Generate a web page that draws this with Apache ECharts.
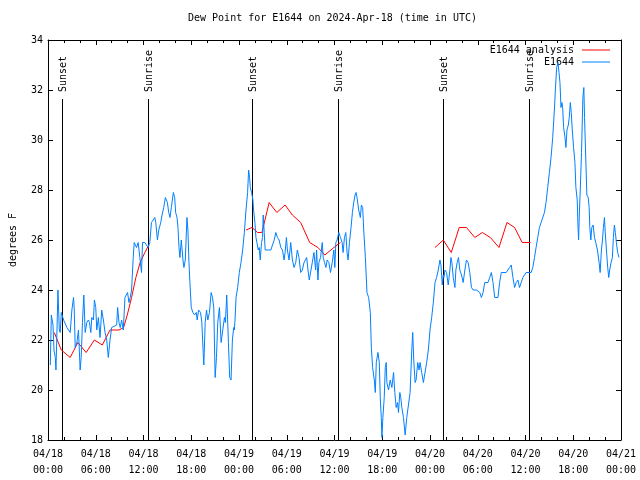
<!DOCTYPE html>
<html><head><meta charset="utf-8">
<script src="https://cdn.jsdelivr.net/npm/echarts@6/dist/echarts.min.js"></script>
<style>html,body{margin:0;padding:0;background:#fff}#c{width:640px;height:480px}</style>
</head><body><div id="c"></div>
<script>
// hours since 2024-04-18 00:00 UTC
const obsHours = [
0.29,0.42,0.63,0.75,0.92,1.0,1.13,1.25,1.42,1.54,1.67,1.83,1.96,2.38,2.79,3.0,3.21,3.29,3.42,3.63,
3.83,4.04,4.17,4.33,4.5,4.67,4.88,5.08,5.21,5.38,5.5,5.71,5.83,6.0,6.13,6.33,6.54,6.75,6.96,7.17,
7.38,7.58,7.79,8.0,8.21,8.63,8.75,8.92,9.08,9.25,9.46,9.67,10.0,10.17,10.33,10.5,10.71,10.83,11.13,11.33,
11.54,11.75,11.88,12.17,12.38,12.58,12.79,13.0,13.21,13.42,13.54,13.75,13.92,14.17,14.33,14.54,14.75,15.0,15.17,15.33,
15.5,15.75,15.92,16.04,16.21,16.33,16.46,16.58,16.75,16.96,17.08,17.25,17.46,17.58,17.71,17.83,18.0,18.21,18.42,18.63,
18.75,18.92,19.17,19.33,19.5,19.58,19.75,19.92,20.08,20.29,20.5,20.67,20.83,21.0,21.17,21.33,21.54,21.75,21.96,22.17,
22.29,22.46,22.67,22.83,23.0,23.17,23.33,23.42,23.5,23.63,23.83,24.04,24.25,24.46,24.67,24.88,25.08,25.21,25.33,25.42,
25.58,25.75,25.83,26.0,26.13,26.25,26.42,26.54,26.67,26.83,26.96,27.04,27.17,27.29,27.5,28.0,28.42,28.63,28.83,29.04,
29.25,29.46,29.67,29.79,29.96,30.08,30.29,30.5,30.71,30.92,31.13,31.33,31.54,31.75,31.96,32.17,32.38,32.5,32.67,32.83,
33.0,33.21,33.42,33.63,33.75,33.92,34.04,34.25,34.46,34.58,34.75,34.92,35.08,35.29,35.5,35.71,35.92,36.04,36.17,36.33,
36.54,36.75,36.96,37.08,37.25,37.42,37.58,37.71,37.88,38.08,38.25,38.42,38.58,38.71,38.83,39.04,39.25,39.38,39.54,39.67,
39.88,40.08,40.29,40.5,40.63,40.79,41.0,41.13,41.25,41.46,41.63,41.75,41.88,41.96,42.08,42.25,42.38,42.5,42.58,42.79,
43.0,43.21,43.42,43.58,43.75,43.92,44.04,44.21,44.33,44.46,44.67,44.88,45.08,45.29,45.5,45.71,45.83,45.96,46.13,46.25,
46.46,46.63,46.75,46.96,47.17,47.38,47.58,47.79,48.0,48.21,48.42,48.63,48.83,49.04,49.25,49.38,49.54,49.67,49.75,49.88,
50.08,50.29,50.5,50.63,50.75,50.92,51.13,51.25,51.42,51.58,51.75,51.96,52.17,52.38,52.58,52.79,53.0,53.21,53.42,53.83,
54.25,54.46,54.67,54.88,55.29,55.5,55.71,55.92,56.13,56.54,56.75,56.96,57.58,57.79,58.0,58.21,58.42,58.63,58.83,59.04,
59.25,59.46,59.67,59.88,60.08,60.71,60.92,61.13,61.33,61.54,61.75,61.96,62.17,62.38,62.58,62.79,63.0,63.21,63.42,63.63,
63.75,63.92,64.08,64.21,64.33,64.46,64.58,64.67,64.79,64.96,65.08,65.21,65.38,65.5,65.63,65.75,65.88,66.04,66.21,66.33,
66.5,66.58,66.67,66.75,66.88,67.04,67.21,67.33,67.42,67.58,67.71,67.88,68.0,68.08,68.21,68.33,68.5,68.67,68.83,69.04,
69.25,69.38,69.54,69.67,69.79,69.92,70.0,70.17,70.33,70.46,70.58,70.75,70.92,71.04,71.17,71.29,71.42,71.58,71.75
];
const obsValues = [
21.0,23.0,22.6,21.6,21.3,20.8,22.4,24.0,22.4,22.3,23.1,23.1,22.8,22.5,22.3,23.2,23.7,23.3,21.7,21.9,
22.4,20.8,21.3,22.7,23.8,22.3,22.7,22.8,22.7,22.3,22.9,22.8,23.6,23.3,22.4,22.9,22.1,23.2,22.8,22.3,
22.0,21.3,22.0,22.5,22.5,22.6,23.3,22.7,22.5,22.8,22.4,23.7,23.9,23.5,23.7,24.0,25.3,25.9,25.7,25.9,
25.3,24.7,25.9,25.9,25.9,25.7,25.9,26.7,26.8,26.9,26.7,26.0,26.4,26.7,27.0,27.3,27.7,27.5,27.1,26.9,
27.3,27.9,27.7,27.1,26.9,26.5,25.7,25.3,26.0,25.2,24.9,25.2,26.9,26.4,25.1,24.3,23.3,23.1,23.0,23.1,
22.8,23.2,23.1,22.7,21.5,21.0,22.7,23.2,22.8,23.1,23.9,23.7,23.3,20.5,21.3,22.7,23.3,21.9,22.4,22.9,
22.7,23.8,21.9,20.5,20.4,22.0,22.5,22.4,22.8,23.7,24.1,24.7,25.1,25.6,26.3,27.2,27.9,28.8,28.5,28.1,
27.9,27.6,27.2,26.7,26.1,25.9,25.6,25.7,25.2,25.9,26.1,27.0,26.3,25.6,25.6,25.6,26.0,26.3,26.1,26.0,
25.7,25.6,25.2,25.5,26.1,25.6,25.2,25.9,25.2,24.9,25.1,25.6,25.3,24.7,24.8,25.1,25.1,25.3,24.8,24.4,
24.4,25.1,25.5,24.8,25.6,24.4,25.1,25.3,25.9,25.3,25.1,24.9,25.2,25.1,24.7,25.1,25.6,24.9,25.9,26.0,
26.3,26.1,25.9,25.5,26.1,26.3,25.5,25.2,25.9,26.5,27.1,27.5,27.8,27.9,27.7,27.2,26.9,27.4,27.3,26.4,
25.3,23.9,23.7,23.1,21.7,20.9,20.4,19.9,21.1,21.5,21.1,19.7,18.9,18.1,18.9,19.7,20.9,21.1,20.3,20.0,
20.4,20.1,20.7,19.9,19.3,19.5,19.1,19.9,19.7,19.3,18.9,18.2,18.9,18.9,19.9,21.6,22.3,21.2,20.3,20.4,
21.1,20.8,21.1,20.7,20.3,20.3,21.1,21.6,22.4,22.9,23.5,24.3,24.5,24.8,25.2,25.0,24.2,24.6,24.5,24.8,
24.7,24.2,24.8,25.3,25.1,24.5,24.1,24.8,25.1,25.3,24.8,24.6,24.3,24.8,25.2,25.1,24.7,24.1,24.0,24.0,
23.9,23.7,23.9,24.3,24.3,24.5,24.7,24.3,23.7,23.7,24.3,24.7,24.7,24.8,24.9,25.0,24.5,24.1,24.3,24.4,
24.1,24.3,24.5,24.5,24.7,24.7,24.9,25.3,25.7,26.1,26.5,26.7,26.7,27.1,27.5,28.1,28.7,29.3,30.1,31.2,
32.0,32.9,33.1,32.7,32.3,31.3,31.5,31.3,30.5,30.1,29.7,30.4,30.6,30.9,31.5,31.1,30.4,29.7,29.1,28.1,
27.6,26.7,26.0,26.9,28.0,29.5,31.7,32.1,30.9,29.2,27.8,27.7,27.3,26.5,26.0,26.5,26.6,26.1,25.9,25.6,
25.1,24.7,25.6,26.0,26.5,26.9,26.4,25.6,24.9,24.5,24.8,25.1,25.3,26.1,26.6,26.3,25.9,25.5,25.3
];
const anaHours = [
0.79,1.67,2.79,3.75,4.79,5.83,6.83,7.79,8.92,9.5,9.96,10.5,11.04,11.58,12.17,12.67,
18,
24.88,25.63,26.33,26.88,27.79,28.75,29.79,30.71,31.75,32.88,33.92,34.79,35.92,36.75,
42,
48.63,49.67,50.67,51.67,52.58,53.63,54.58,55.58,56.67,57.67,58.63,59.58,60.63
];
const anaValues = [
22.3,21.6,21.3,21.9,21.5,22.0,21.8,22.4,22.4,22.5,23.0,23.7,24.5,25.1,25.5,25.8,
null,
26.4,26.5,26.3,26.3,27.5,27.1,27.4,27.0,26.7,25.9,25.7,25.4,25.7,25.9,
null,
25.7,26.0,25.5,26.5,26.5,26.1,26.3,26.1,25.7,26.7,26.5,25.9,25.9
];
const sunHours = [1.71, 12.58, 25.67, 36.42, 49.67, 60.42];
const sunLabels = ['Sunset', 'Sunrise', 'Sunset', 'Sunrise', 'Sunset', 'Sunrise'];
const xTickLabels = ['04/18\n00:00','04/18\n06:00','04/18\n12:00','04/18\n18:00','04/19\n00:00','04/19\n06:00',
  '04/19\n12:00','04/19\n18:00','04/20\n00:00','04/20\n06:00','04/20\n12:00','04/20\n18:00','04/21\n00:00'];
const X_MIN = 0, X_MAX = 72, X_STEP = 6;
const Y_MIN = 18, Y_MAX = 34, Y_STEP = 2;
const SUN_LINE_TOP = 31.64;

const FONT = '"DejaVu Sans Mono", "Liberation Mono", monospace';
const chart = echarts.init(document.getElementById('c'), null, {renderer: 'canvas'});

const xBase = {
  type: 'value', min: X_MIN, max: X_MAX, interval: X_STEP,
  axisLine: {show: true, onZero: false, lineStyle: {color: '#000', width: 1}},
  axisTick: {show: true, inside: true, length: 5, lineStyle: {color: '#000'}},
  minorTick: {show: true, splitNumber: 3, length: 3, lineStyle: {color: '#000'}},
  splitLine: {show: false}, minorSplitLine: {show: false}
};
const yBase = {
  type: 'value', min: Y_MIN, max: Y_MAX, interval: Y_STEP,
  axisLine: {show: true, onZero: false, lineStyle: {color: '#000', width: 1}},
  axisTick: {show: true, inside: true, length: 5, lineStyle: {color: '#000'}},
  splitLine: {show: false}
};

const option = {
  animation: false,
  backgroundColor: '#fff',
  textStyle: {fontFamily: FONT},
  title: {
    text: 'Dew Point for E1644 on 2024-Apr-18 (time in UTC)',
    left: 188, top: 13, padding: 0,
    textStyle: {fontFamily: FONT, fontSize: 10, fontWeight: 'normal', color: '#000'}
  },
  legend: {
    data: [{name: 'E1644 analysis', icon: 'rect'}, {name: 'E1644', icon: 'rect'}],
    orient: 'vertical', align: 'right',
    right: 30, top: 44, padding: 0,
    itemWidth: 28, itemHeight: 1, itemGap: 0,
    textStyle: {fontFamily: FONT, fontSize: 10, color: '#000', lineHeight: 12, padding: [0, 3, 0, 0]}
  },
  grid: {left: 46, right: 19, top: 40, bottom: 40, containLabel: false},
  xAxis: [
    Object.assign({}, xBase, {
      position: 'bottom',
      axisLabel: {
        show: true, margin: 6, color: '#000', fontFamily: FONT, fontSize: 10, lineHeight: 16,
        formatter: v => xTickLabels[Math.round((v - X_MIN) / X_STEP)]
      }
    }),
    Object.assign({}, xBase, {position: 'top', axisLabel: {show: false}})
  ],
  yAxis: [
    Object.assign({}, yBase, {
      position: 'left',
      name: 'degrees F', nameLocation: 'middle', nameGap: 30, nameRotate: 90,
      nameTextStyle: {fontFamily: FONT, fontSize: 10, color: '#000'},
      axisLabel: {show: true, margin: 5, color: '#000', fontFamily: FONT, fontSize: 10}
    }),
    Object.assign({}, yBase, {position: 'right', axisLabel: {show: false}})
  ],
  series: [
    {
      name: 'E1644 analysis', type: 'line', xAxisIndex: 0, yAxisIndex: 0,
      data: anaHours.map((h, i) => [h, anaValues[i] === null ? '-' : anaValues[i]]),
      showSymbol: false, symbol: 'none', connectNulls: false,
      lineStyle: {color: '#ff0000', width: 1}, itemStyle: {color: '#ff0000'},
      z: 3
    },
    {
      name: 'E1644', type: 'line', xAxisIndex: 0, yAxisIndex: 0,
      data: obsHours.map((h, i) => [h, obsValues[i]]),
      showSymbol: false, symbol: 'none',
      lineStyle: {color: '#0080ff', width: 1}, itemStyle: {color: '#0080ff'},
      z: 4
    },
    {
      name: 'sun', type: 'custom', xAxisIndex: 0, yAxisIndex: 0,
      data: sunHours.map(h => [h, SUN_LINE_TOP]),
      z: 2, silent: true,
      renderItem: function (params, api) {
        const h = api.value(0);
        const top = api.coord([h, SUN_LINE_TOP]);
        const bot = api.coord([h, Y_MIN]);
        const x = Math.round(top[0]) + 0.5;
        return {
          type: 'group',
          children: [
            {type: 'line', shape: {x1: x, y1: Math.round(top[1]), x2: x, y2: bot[1]},
             style: {stroke: '#000', lineWidth: 1}},
            {type: 'text', x: x + 1, y: Math.round(top[1]) - 7, rotation: Math.PI / 2,
             style: {text: sunLabels[params.dataIndex], font: '10px ' + FONT, fill: '#000',
                     align: 'left', verticalAlign: 'middle'}}
          ]
        };
      }
    }
  ]
};
chart.setOption(option);
</script>
</body></html>
